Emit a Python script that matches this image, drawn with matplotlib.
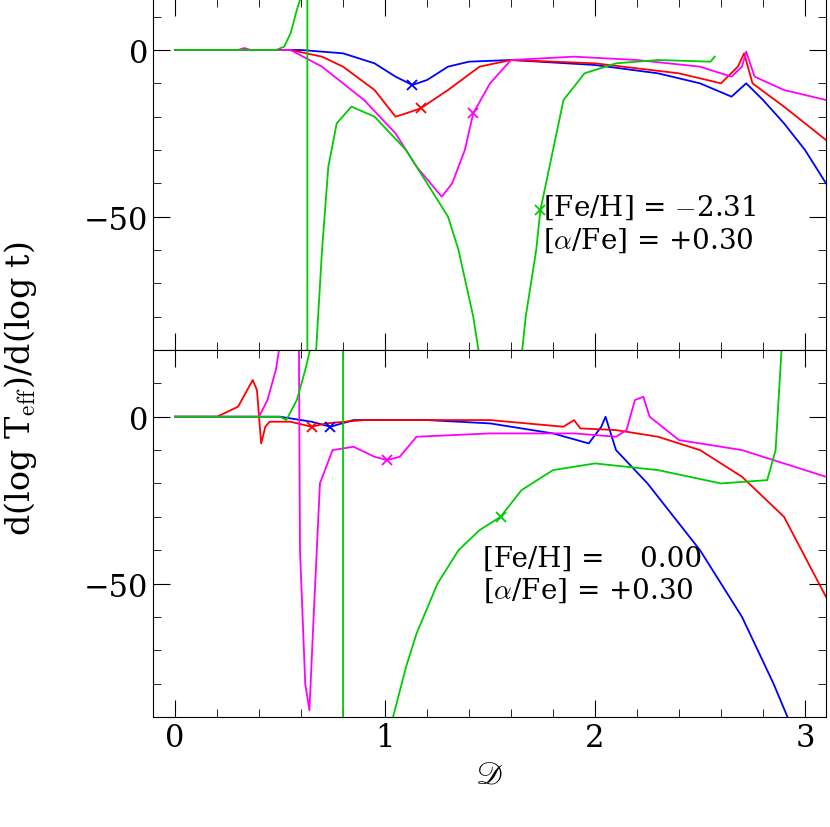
import numpy as np
import matplotlib.pyplot as plt
from matplotlib.ticker import MultipleLocator

plt.rcParams["font.family"] = "serif"
plt.rcParams["font.serif"] = ["DejaVu Serif"]
plt.rcParams["mathtext.fontset"] = "cm"

# ---- top panel ([Fe/H] = -2.31) ----
top_blue_x = [0, 0.6, 0.8, 0.95, 1.05, 1.13, 1.2, 1.3, 1.4, 1.6, 2.0, 2.3, 2.5, 2.65, 2.72, 2.8, 2.9, 3.0, 3.1]
top_blue_y = [0, 0, -1, -4, -8, -10.5, -9, -5, -3.5, -3, -4.5, -7, -10, -14, -10, -15, -22, -30, -40]
top_red_x = [0, 0.55, 0.7, 0.8, 0.95, 1.05, 1.1, 1.17, 1.3, 1.45, 1.6, 2.0, 2.4, 2.6, 2.68, 2.71, 2.75, 2.9, 3.1]
top_red_y = [0, 0, -2, -5, -12, -20, -19, -17.5, -12, -5, -3, -4, -7, -10, -5, -1, -10, -17, -27]
top_mag_x = [0, 0.3, 0.33, 0.36, 0.55, 0.7, 0.9, 1.05, 1.15, 1.27, 1.32, 1.38, 1.42, 1.5, 1.6, 1.9, 2.2, 2.5, 2.65, 2.7, 2.72, 2.76, 2.9, 3.1]
top_mag_y = [0, 0, 0.6, 0, 0, -5, -15, -25, -35, -44, -40, -30, -19, -10, -3, -2, -3, -5, -8, -5, -0.5, -8, -12, -15]
top_grn_x = [0, 0.48, 0.52, 0.55, 0.58, 0.6, 0.63, 0.63, 0.67, 0.7, 0.73, 0.77, 0.84, 0.95, 1.1, 1.2, 1.3, 1.35, 1.42, 1.45,
             1.65, 1.67, 1.72, 1.74, 1.8, 1.85, 1.95, 2.1, 2.3, 2.55, 2.57]
top_grn_y = [0, 0, 1, 5, 12, 16, 20, -95, -92, -60, -35, -22, -17, -20, -30, -40, -50, -60, -80, -92,
             -92, -80, -60, -48, -30, -15, -7, -4, -3, -3.5, -2]
top_marks = {"blue": (1.13, -10.5), "red": (1.17, -17.5), "magenta": (1.42, -19), "#00cc00": (1.74, -48)}

# ---- bottom panel ([Fe/H] = 0.00) ----
bot_blue_x = [0, 0.5, 0.65, 0.74, 0.85, 1.2, 1.5, 1.8, 1.97, 2.03, 2.05, 2.1, 2.25, 2.5, 2.7, 2.85, 2.93]
bot_blue_y = [0, 0, -1.5, -3, -1, -1, -2, -5, -8, -3, 0, -10, -20, -40, -60, -80, -92]
bot_red_x = [0, 0.2, 0.3, 0.37, 0.39, 0.4, 0.41, 0.43, 0.45, 0.55, 0.65, 0.72, 0.9, 1.5, 1.85, 1.9, 1.93, 2.1, 2.3, 2.5, 2.7, 2.9, 3.0, 3.1]
bot_red_y = [0, 0, 3, 11, 8, 0, -8, -3, -1.5, -1.5, -3, -2, -1, -1, -3, -1, -3.5, -4, -6, -10, -18, -30, -42, -54]
bot_mag_x = [0, 0.4, 0.44, 0.48, 0.5, 0.59, 0.595, 0.62, 0.64, 0.66, 0.69, 0.75, 0.85, 0.95, 1.01, 1.07, 1.15, 1.5, 1.9, 2.1, 2.15, 2.19, 2.23, 2.26, 2.4, 2.7, 2.9, 3.1]
bot_mag_y = [0, 0, 5, 14, 22, 22, -40, -80, -88, -60, -20, -10, -9, -12, -13, -12, -6, -5, -5, -6, -4, 5, 6, 0, -7, -10, -14, -18]
bot_grn_x = [0, 0.5, 0.53, 0.58, 0.62, 0.65, 0.8, 0.8, 1.03, 1.1, 1.15, 1.25, 1.35, 1.45, 1.55, 1.65, 1.8, 2.0, 2.3, 2.6, 2.82, 2.86, 2.89]
bot_grn_y = [0, 0, -1, 5, 14, 22, 22, -95, -92, -75, -65, -50, -40, -34, -30, -22, -16, -14, -16, -20, -19, -10, 22]
bot_marks = {"blue": (0.74, -3), "red": (0.65, -3), "magenta": (1.01, -13), "#00cc00": (1.55, -30)}

fig = plt.figure(figsize=(8.3, 8.28), dpi=100)
ax1 = fig.add_axes([153 / 830, 1 - 351 / 828, 673 / 830, 351 / 828])
ax2 = fig.add_axes([153 / 830, 1 - 718 / 828, 673 / 830, 367 / 828])

panels = [
    (ax1, (-90, 15.3), [(top_blue_x, top_blue_y, "blue"), (top_red_x, top_red_y, "red"),
                        (top_mag_x, top_mag_y, "magenta"), (top_grn_x, top_grn_y, "#00cc00")],
     top_marks, "[Fe/H] = $-$2.31\n[$\\alpha$/Fe] = +0.30", (0.58, 0.45)),
    (ax2, (-90, 20), [(bot_blue_x, bot_blue_y, "blue"), (bot_red_x, bot_red_y, "red"),
                      (bot_mag_x, bot_mag_y, "magenta"), (bot_grn_x, bot_grn_y, "#00cc00")],
     bot_marks, "[Fe/H] =    0.00\n[$\\alpha$/Fe] = +0.30", (0.49, 0.47)),
]

for ax, ylim, curves, marks, label, pos in panels:
    for x, y, c in curves:
        ax.plot(x, y, color=c, lw=1.3)
    for c, (mx, my) in marks.items():
        ax.plot(mx, my, marker="x", color=c, ms=7, mew=1.3)
    ax.set_xlim(-0.105, 3.1)
    ax.set_ylim(*ylim)
    ax.xaxis.set_major_locator(MultipleLocator(1))
    ax.xaxis.set_minor_locator(MultipleLocator(0.2))
    ax.yaxis.set_major_locator(MultipleLocator(50))
    ax.yaxis.set_minor_locator(MultipleLocator(10))
    ax.tick_params(which="both", direction="in", top=True, right=True, labelsize=22)
    ax.tick_params(which="major", length=12)
    ax.tick_params(which="minor", length=6)
    ax.text(pos[0], pos[1], label, transform=ax.transAxes, fontsize=20, va="top", linespacing=1.2)

ax1.tick_params(labelbottom=False)
ax1.spines["top"].set_visible(False)
ax2.set_xlabel("$\\mathscr{D}$", fontsize=22)
fig.text(0.025, 0.53, "d(log T$_{\\rm eff}$)/d(log t)", rotation=90, fontsize=24, va="center", ha="center")

fig.savefig("out.png", dpi=100)
